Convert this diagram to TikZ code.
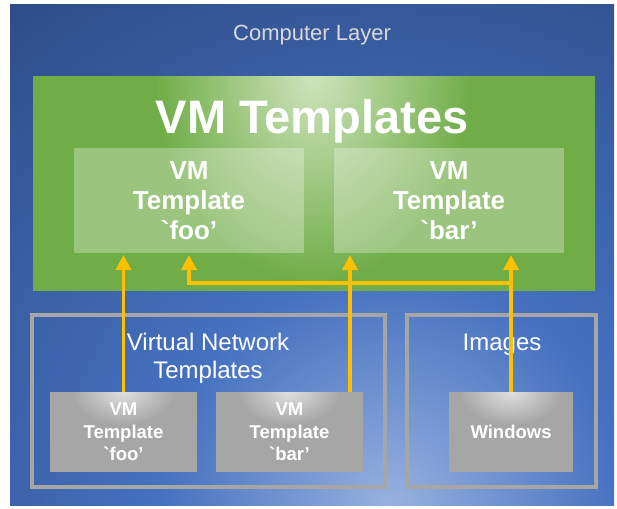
\documentclass[tikz,border=0pt]{standalone}
\usepackage{fontspec}
\newfontfamily\arialf{Liberation Sans}
\usetikzlibrary{arrows.meta}
\definecolor{bgDark}{HTML}{2D4C86}
\definecolor{bgMid}{HTML}{4571C0}
\definecolor{bgLight}{HTML}{98B1DF}
\definecolor{grn}{HTML}{70AD47}
\definecolor{grnLight}{HTML}{CDE3BC}
\definecolor{gry}{HTML}{A6A6A6}
\definecolor{gryLight}{HTML}{E0E0E0}
\definecolor{arr}{HTML}{FFC000}
\definecolor{txtgray}{HTML}{D9D9D9}
\pgfdeclareradialshading{bgshade}{\pgfpointorigin}{color(0bp)=(bgLight); color(9bp)=(bgMid); color(25bp)=(bgDark); color(50bp)=(bgDark)}
% concentric-ellipse glow: #1 inner colour, #2 outer colour, #3 x radius, #4 y radius
\newcommand\glowfill[4]{%
  \clip ([yshift=-0.8pt]path picture bounding box.north west) rectangle (path picture bounding box.south east);%
  \foreach \k in {0,...,44}{%
    \pgfmathsetmacro\glowrx{#3*(1-\k/45)}%
    \pgfmathsetmacro\glowry{#4*(1-\k/45)}%
    \pgfmathsetmacro\glowmix{100*\k/44}%
    \fill[#1!\glowmix!#2] (path picture bounding box.north) ellipse (\glowrx pt and \glowry pt);%
  }}
\begin{document}
\begin{tikzpicture}[x=1pt,y=-1pt,
  panel/.style={inner sep=0pt, outer sep=0pt, draw=none},
  ltitle/.style={text=txtgray, font=\arialf\fontsize{22}{26}\selectfont},
  bigtitle/.style={text=white, font=\arialf\bfseries\fontsize{47}{50}\selectfont},
  tbox/.style={panel, minimum width=230pt, minimum height=105pt, fill=white, fill opacity=0.3, text opacity=1, text=white, align=center, font=\arialf\bfseries\fontsize{26}{30}\selectfont},
  framebox/.style={draw=gry, line width=3.5pt, inner sep=0pt, minimum height=172pt},
  grouplabel/.style={text=white, align=center, font=\arialf\fontsize{24}{28}\selectfont},
  sbox/.style={panel, minimum height=80pt, fill=gry, text=white, align=center,
    font=\arialf\bfseries\fontsize{18.5}{22.5}\selectfont,
    path picture={\glowfill{gryLight}{gry}{52}{34}}},
  arrowline/.style={draw=arr, line width=3.5pt, line join=miter, shorten >=2pt, -{Triangle[length=15pt,width=15pt]}}
]
\useasboundingbox (0,0) rectangle (617,508);
% background layer
\node[panel, minimum width=604pt, minimum height=500pt,
  path picture={\shade[shading=bgshade] ([xshift=78pt]path picture bounding box.south) circle (640pt);}] (layer) at (312,255) {};
\node[ltitle] (ltxt) at (312,35) {Computer Layer};
% green panel
\node[panel, minimum width=562pt, minimum height=215pt, fill=grn,
  path picture={\glowfill{grnLight}{grn}{160}{210}}] (vmt) at (314,183.5) {};
\node[bigtitle] (vmtitle) at (312,121) {VM Templates};
\node[tbox] (tfoo) at (189,200.5) {VM\\Template\\`foo’};
\node[tbox] (tbar) at (449,200.5) {VM\\Template\\`bar’};
% bottom groups
\node[framebox, minimum width=353pt] (vnframe) at (208.5,401) {};
\node[framebox, minimum width=189pt] (imgframe) at (501.5,401) {};
\node[grouplabel] (vnlabel) at (208,358) {Virtual Network\\Templates};
\node[grouplabel] (imglabel) at (502,345) {Images};
\node[sbox, minimum width=147pt] (sfoo) at (123.5,432) {\raisebox{-1.5pt}{\parbox{140pt}{\centering VM\\Template\\`foo’}}};
\node[sbox, minimum width=147pt] (sbar) at (289.5,432) {\raisebox{-1.5pt}{\parbox{140pt}{\centering VM\\Template\\`bar’}}};
\node[sbox, minimum width=124pt] (win) at (511,432) {Windows};
% connectors
\coordinate (sbarA) at ([xshift=60.5pt]sbar.north);
\coordinate (junc) at (511,283);
\draw[arrowline] (sfoo.north) -- (sfoo.north |- tfoo.south);
\draw[arrowline] (sbarA) -- (sbarA |- tbar.south);
\draw[arrowline] (win.north) -- (win.north |- tbar.south);
\draw[arrowline] (junc) -| (tfoo.south);
\end{tikzpicture}
\end{document}
